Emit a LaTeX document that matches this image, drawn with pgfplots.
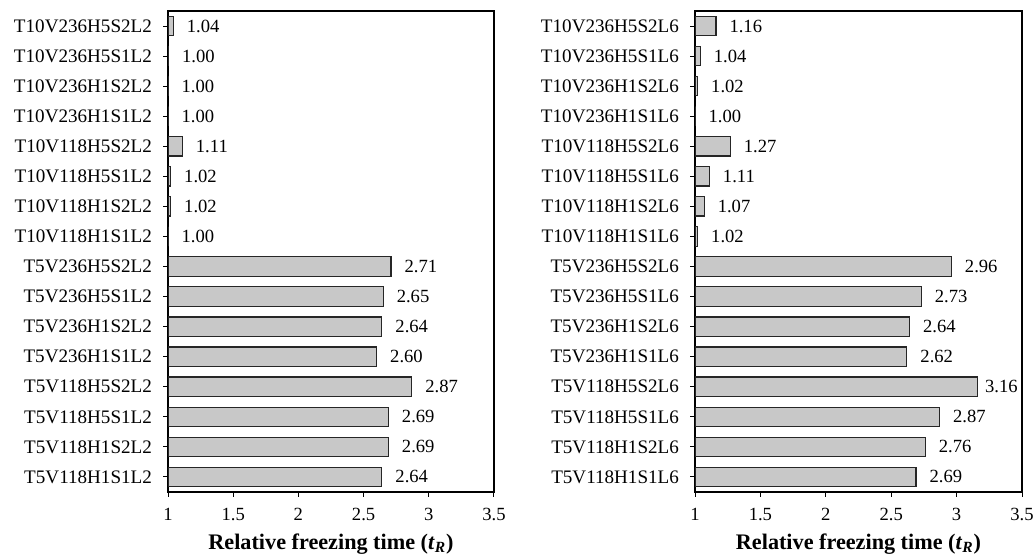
\documentclass[border=0pt]{standalone}
\usepackage{fontspec}
\setmainfont{Liberation Serif}
\usepackage{pgfplots}
\pgfplotsset{compat=1.18}
\definecolor{barfill}{HTML}{C8C8C8}
\pgfplotsset{
  frzstyle/.style={
    xbar, scale only axis, width=163pt, height=240.5pt,
    xmin=1, xmax=3.5, ymin=-0.5, ymax=15.5,
    xtick={1,1.5,2,2.5,3,3.5}, ytick={0,...,15},
    tick align=outside, major tick length=2.5pt,
    xtick pos=bottom, ytick pos=left,
    bar width=9.7pt,
    axis line style={black, line width=0.6pt},
    every tick/.style={black, line width=0.5pt},
    /pgf/number format/assume math mode=true,
    xticklabel style={font=\fontsize{9.3}{11}\selectfont, yshift=-2pt},
    yticklabel style={font=\fontsize{9.55}{11}\selectfont, xshift=-2pt},
    xlabel={\textbf{Relative freezing time (\textit{t}\textsubscript{\textit{R}})}},
    xlabel style={font=\fontsize{11.1}{13}\selectfont, yshift=0.3pt},
    point meta=x,
    nodes near coords={\pgfmathprintnumber[fixed,fixed zerofill,precision=2,assume math mode=true]{\pgfplotspointmeta}},
    nodes near coords style={anchor=west, inner sep=0pt, xshift=6.5pt, font=\fontsize{9.3}{11}\selectfont, black},
  }
}
\begin{document}
\begin{tikzpicture}
\path[use as bounding box] (0,0) rectangle (517.5pt,277.5pt);
\begin{axis}[frzstyle, at={(84pt,31.5pt)}, anchor=south west,
  yticklabels={T5V118H1S1L2,T5V118H1S2L2,T5V118H5S1L2,T5V118H5S2L2,T5V236H1S1L2,T5V236H1S2L2,T5V236H5S1L2,T5V236H5S2L2,T10V118H1S1L2,T10V118H1S2L2,T10V118H5S1L2,T10V118H5S2L2,T10V236H1S1L2,T10V236H1S2L2,T10V236H5S1L2,T10V236H5S2L2}]
\addplot[fill=barfill, draw=black!85, line width=0.6pt] coordinates {
(2.64,0) (2.69,1) (2.69,2) (2.87,3) (2.60,4) (2.64,5) (2.65,6) (2.71,7)
(1.00,8) (1.02,9) (1.02,10) (1.11,11) (1.00,12) (1.00,13) (1.004,14) (1.04,15)};
\end{axis}
\begin{axis}[frzstyle, at={(347.5pt,31.5pt)}, anchor=south west, width=163.5pt,
  yticklabels={T5V118H1S1L6,T5V118H1S2L6,T5V118H5S1L6,T5V118H5S2L6,T5V236H1S1L6,T5V236H1S2L6,T5V236H5S1L6,T5V236H5S2L6,T10V118H1S1L6,T10V118H1S2L6,T10V118H5S1L6,T10V118H5S2L6,T10V236H1S1L6,T10V236H1S2L6,T10V236H5S1L6,T10V236H5S2L6}]
\addplot[fill=barfill, draw=black!85, line width=0.6pt,
  coordinate style/.condition={x>3}{xshift=-3pt}] coordinates {
(2.69,0) (2.76,1) (2.87,2) (3.16,3) (2.62,4) (2.64,5) (2.73,6) (2.96,7)
(1.02,8) (1.07,9) (1.11,10) (1.27,11) (1.00,12) (1.02,13) (1.04,14) (1.16,15)};
\end{axis}
\end{tikzpicture}
\end{document}
